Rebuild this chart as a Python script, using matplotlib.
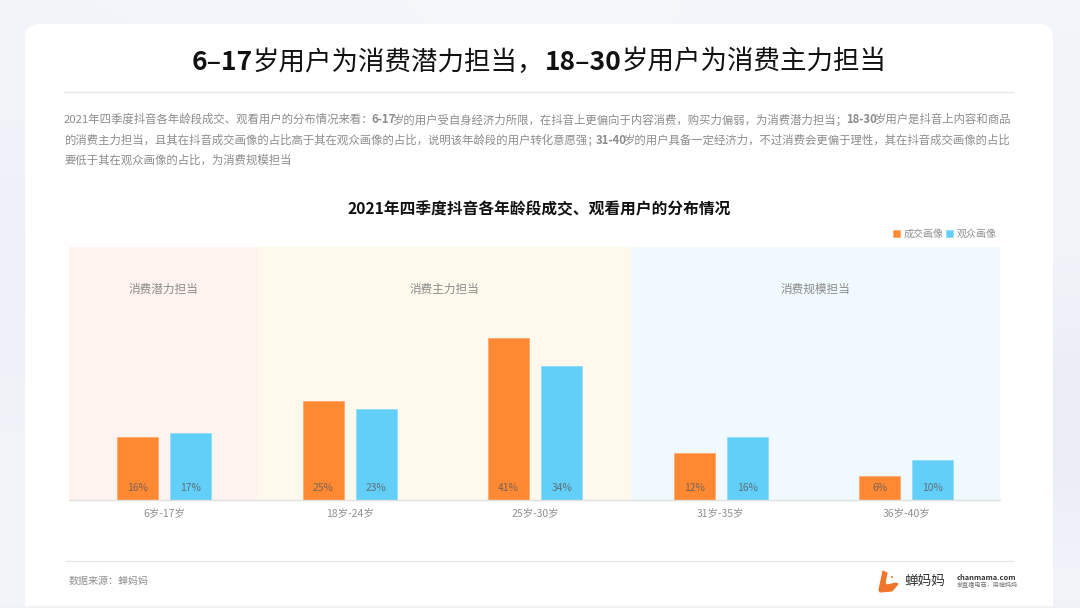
import matplotlib
matplotlib.use('Agg')
import matplotlib.pyplot as plt
import numpy as np
from matplotlib.colors import to_rgb
from matplotlib.patches import Circle, FancyBboxPatch, Polygon, Rectangle

plt.rcParams['font.family'] = ['Noto Sans CJK SC', 'DejaVu Sans']

# data
ageGroups = ['6岁-17岁', '18岁-24岁', '25岁-30岁', '31岁-35岁', '36岁-40岁']
dealShare = [16, 25, 41, 12, 6]
viewerShare = [17, 23, 34, 16, 10]
seriesNames = ['成交画像', '观众画像']
bandNames = ['消费潜力担当', '消费主力担当', '消费规模担当']
bandEdges = [-0.513, 0.5, 2.517, 4.506]
bandColors = ['#fef3ee', '#fff8ec', '#f0f9fd']

titleRuns = [('6–17', 'bold'), ('岁用户为消费潜力担当，', 'medium'), ('18–30', 'bold'), ('岁用户为消费主力担当', 'medium')]
bodyLines = [
    [('2021年四季度抖音各年龄段成交、观看用户的分布情况来看：', 'normal'), ('6-17', 'bold'),
     ('岁的用户受自身经济力所限，在抖音上更偏向于内容消费，购买力偏弱，为消费潜力担当；', 'normal'),
     ('18-30', 'bold'), ('岁用户是抖音上内容和商品', 'normal')],
    [('的消费主力担当，且其在抖音成交画像的占比高于其在观众画像的占比，说明该年龄段的用户转化意愿强；', 'normal'),
     ('31-40', 'bold'), ('岁的用户具备一定经济力，不过消费会更偏于理性，其在抖音成交画像的占比', 'normal')],
    [('要低于其在观众画像的占比，为消费规模担当', 'normal')],
]

ORANGE = '#ff8833'
BLUE = '#62cff8'
W, H = 1080, 608

fig = plt.figure(figsize=(W / 100, H / 100), dpi=100)

# pozadina i kartica, koordinate u pikselima
bg = fig.add_axes([0, 0, 1, 1], zorder=0)
bg.set_xlim(0, W)
bg.set_ylim(H, 0)
bg.axis('off')
shades = [['#f4f5fa', '#f6f7fb', '#f3f5fa'],
          ['#eff1f9', '#f4f5fb', '#f3f4fa'],
          ['#eef0f8', '#f4f5fb', '#f1f3f9'],
          ['#f1f3f9', '#f4f5fb', '#e6e8f4'],
          ['#f3f5fa', '#f5f6fb', '#f2f4fa']]
corners = np.array([[to_rgb(c) for c in row] for row in shades])
bg.imshow(corners, extent=(0, W, H, 0), interpolation='bicubic', aspect='auto', zorder=0)
bg.add_patch(FancyBboxPatch((25, 24), 1028, 640, boxstyle='round,pad=0,rounding_size=14',
                            fc='white', ec='none', zorder=1))
bg.add_patch(Rectangle((0, 606), W, 2, fc='#f1f2f6', ec='none', zorder=1))
bg.plot([64, 1013], [92, 92], color='#e9e9e9', lw=1, zorder=2)
bg.plot([66, 1013], [561, 561], color='#e6e6e6', lw=1, zorder=2)


def advance(s, size, weight, renderer):
    # sirina sa praznim delom znaka (：，；), zato meri izmedju dve crte
    a = bg.text(0, 0, '|' + s + '|', fontsize=size, fontweight=weight)
    b = bg.text(0, 0, '||', fontsize=size, fontweight=weight)
    w = a.get_window_extent(renderer).width - b.get_window_extent(renderer).width
    a.remove()
    b.remove()
    return w


def drawRuns(runs, x, y, size, color, width=None, center=False):
    # tekst iz vise delova, normalan i bold, u jednom redu
    renderer = fig.canvas.get_renderer()
    widths = [advance(s, size, weight, renderer) for s, weight in runs]
    total = sum(widths)
    gap = 0
    if width is not None and len(runs) > 1:
        gap = (width - total) / (len(runs) - 1)
    if center:
        x = x - total / 2
    for (s, weight), w in zip(runs, widths):
        bg.text(x, y, s, fontsize=size, fontweight=weight, color=color, va='center', ha='left', zorder=3)
        x += w + gap


drawRuns(titleRuns, 539, 62, 19.05, '#111111', center=True)
drawRuns(bodyLines[0], 64, 119.5, 8.18, '#8c8c8c', width=947)
drawRuns(bodyLines[1], 64, 140, 8.18, '#8c8c8c', width=947)
drawRuns(bodyLines[2], 64, 160, 8.18, '#8c8c8c')

bg.text(539, 209.5, '2021年四季度抖音各年龄段成交、观看用户的分布情况', fontsize=11.3, fontweight='bold',
        color='#111111', ha='center', va='center', zorder=3)
bg.text(69, 581, '数据来源：蝉妈妈', fontsize=7.2, color='#8f8f8f', ha='left', va='center', zorder=3)

# logo
bg.add_patch(Polygon([(883, 571), (887, 573), (885, 583), (887, 585), (896, 583), (898, 584),
                      (892, 591), (880, 592), (879, 590)], closed=True, fc='#f0752a', ec='#f0752a',
                     lw=0.8, joinstyle='round', zorder=3))
bg.add_patch(Circle((892, 577), 1, fc='#f0752a', ec='none', zorder=3))
bg.text(904, 581, '蝉妈妈', fontsize=9.8, color='#333333', ha='left', va='center', zorder=3)
bg.text(957, 577, 'chanmama.com', fontsize=5.4, fontweight='bold', color='#333333', ha='left', va='center', zorder=3)
bg.text(957, 585.5, '做直播电商，用蝉妈妈', fontsize=4.4, color='#777777', ha='left', va='center', zorder=3)

# grafik
ax = fig.add_axes([69 / W, 1 - 500 / H, 931 / W, 253 / H], zorder=1)
ax.patch.set_alpha(0)
x = np.arange(len(ageGroups))
offset = 0.143
barWidth = 0.222

for i, name in enumerate(bandNames):
    ax.axvspan(bandEdges[i], bandEdges[i + 1], color=bandColors[i], lw=0, zorder=0)
    mid = (bandEdges[i] + bandEdges[i + 1]) / 2
    ax.annotate(name, (mid, 1), xycoords=('data', 'axes fraction'), xytext=(0, -42 * 0.72),
                textcoords='offset points', ha='center', va='center', fontsize=8.4, color='#8a8a8a')

b1 = ax.bar(x - offset, dealShare, barWidth, color=ORANGE, edgecolor='#ffa463', lw=0.5, zorder=2, label=seriesNames[0])
b2 = ax.bar(x + offset, viewerShare, barWidth, color=BLUE, edgecolor='#8adcfa', lw=0.5, zorder=2, label=seriesNames[1])

for bars, vals in ((b1, dealShare), (b2, viewerShare)):
    for rect, v in zip(bars, vals):
        ax.annotate(f'{v}%', (rect.get_x() + rect.get_width() / 2, 0), xytext=(0, 12 * 0.72),
                    textcoords='offset points', ha='center', va='center', fontsize=7.4,
                    color='#5f5f5f', alpha=0.85, zorder=3)

ax.set_xlim(bandEdges[0], bandEdges[-1])
ax.set_ylim(0, 64)
ax.set_yticks([])
ax.set_xticks(x, ageGroups)
ax.tick_params(axis='x', length=0, pad=6, labelsize=7.5, labelcolor='#8f8f8f')
for s in ['top', 'left', 'right']:
    ax.spines[s].set_visible(False)
ax.spines['bottom'].set_color('#e0e0e0')
ax.spines['bottom'].set_linewidth(1)

ax.legend(loc='lower right', bbox_to_anchor=(1.0035, 1.006), ncol=2, frameon=False, fontsize=7.2,
          labelcolor='#8f8f8f', handlelength=0.7, handleheight=0.7, handletextpad=0.35,
          columnspacing=0.3, borderpad=0.35, borderaxespad=0.3)

fig.savefig('out.png', dpi=100)
